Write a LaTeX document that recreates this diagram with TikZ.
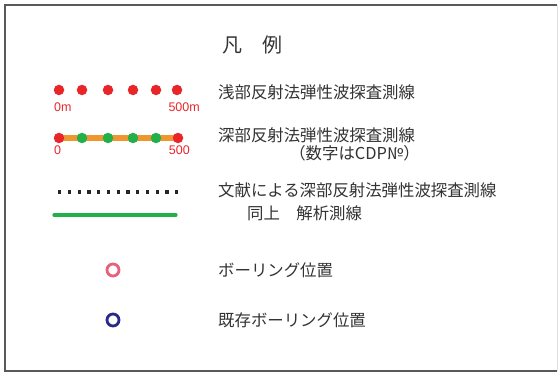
\documentclass[tikz,border=0pt]{standalone}
\usepackage{fontspec}
\setmainfont{Noto Sans CJK JP}
\newfontfamily\latinsans{Liberation Sans}
\usetikzlibrary{positioning}
\definecolor{ptred}{HTML}{E8262A}
\definecolor{ptgreen}{HTML}{22B04B}
\definecolor{ptorange}{HTML}{F0962E}
\definecolor{ptpink}{HTML}{E8607A}
\definecolor{ptnavy}{HTML}{2A2A8A}
\begin{document}
\begin{tikzpicture}[
      x=1pt, y=-1pt,
      lbl/.style={anchor=west, inner sep=0pt, text=black!80,
                  font=\fontsize{16.4}{18}\selectfont},
      ttl/.style={inner sep=0pt, text=black!80, font=\fontsize{20}{22}\selectfont},
      num/.style={inner sep=0pt, text=ptred, font=\latinsans\fontsize{12.5}{14}\selectfont},
      rdot/.style={circle, fill=ptred, minimum size=10.5pt, inner sep=0pt},
      gdot/.style={circle, fill=ptgreen, minimum size=10.5pt, inner sep=0pt},
      bar/.style={ptorange, line width=6.5pt},
      kdot/.style={black!85, line width=3.4pt, dash pattern=on 3.4pt off 6.35pt},
      gline/.style={ptgreen, line width=3.2pt, line cap=round},
      ring/.style={circle, draw=#1, line width=2.8pt, minimum size=12pt, inner sep=0pt}]
    \useasboundingbox (0,0) rectangle (559,374);
    % frame
    \draw[black!65, line width=1.5pt] (557,5) -- (5,5) -- (5,371) -- (557,371);
    \draw[black!12] (557,5) -- (557,371);
    % title
    \node[ttl] (title) at (252,45) {凡　例};
    % shallow line
    \foreach \i/\x in {1/59, 2/82, 3/108, 4/133, 5/156, 6/177}
      \node[rdot] (s\i) at (\x,90) {};
    \node[num, anchor=west] (s0m) at (54,107) {0m};
    \node[num, anchor=east] (s500m) at (200,107) {500m};
    \node[lbl] (tshallow) at (218,92) {浅部反射法弾性波探査測線};
    % deep line
    \coordinate (dL) at (59,138);
    \coordinate (dR) at (178,138);
    \draw[bar] (dL) -- (dR);
    \node[rdot] (d1) at (dL) {};
    \foreach \i/\x in {2/82, 3/108, 4/133, 5/156}
      \node[gdot] (d\i) at (\x,138) {};
    \node[rdot] (d6) at (dR) {};
    \node[num, anchor=west] (d0) at (54,150) {0};
    \node[num, anchor=east] (d500) at (190,150) {500};
    \node[lbl] (tdeep) at (218,135) {深部反射法弾性波探査測線};
    \node[lbl, anchor=east] (tcdp) at (420,153) {（数字はCDP№）};
    % literature line
    \coordinate (kL) at (58,192);
    \coordinate (kR) at (178.4,192);
    \draw[kdot] (kL) -- (kR);
    \node[lbl] (tlit) at (218,190) {文献による深部反射法弾性波探査測線};
    \coordinate (gL) at (54,215);
    \coordinate (gR) at (176,215);
    \draw[gline] (gL) -- (gR);
    \node[lbl] (tana) at (247,213) {同上　解析測線};
    % boreholes
    \node[ring=ptpink] (bnew) at (113,270) {};
    \node[lbl] (tbnew) at (218,270) {ボーリング位置};
    \node[ring=ptnavy] (bold) at (113,320) {};
    \node[lbl] (tbold) at (218,320) {既存ボーリング位置};
  \end{tikzpicture}
\end{document}
